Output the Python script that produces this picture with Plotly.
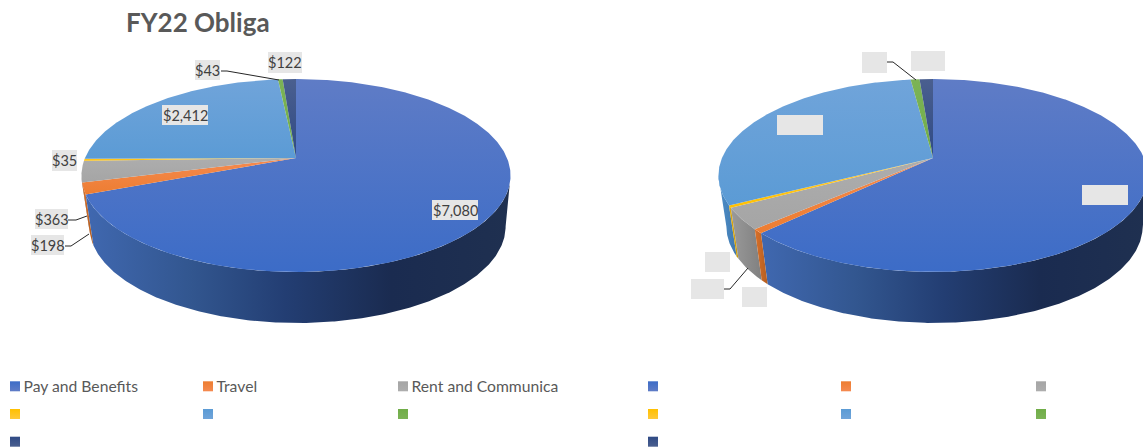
import math
import plotly.graph_objects as go

# ---- data ----
categories = ["Pay and Benefits", "Travel", "Rent and Communica", "", "", "", ""]
left_values = [7080, 198, 363, 35, 2412, 43, 122]
right_values = [626, 7, 36, 4, 307, 8, 12]
left_labels = ["$7,080", "$198", "$363", "$35", "$2,412", "$43", "$122"]
title_text = "FY22 Obliga"

# ---- style ----
# (upper colour, lower colour) of each top face
TOP_COLORS = [("#5f7cc6", "#3c6cc7"), ("#f58a50", "#ed7d31"), ("#adadad", "#a5a5a5"),
              ("#ffc93a", "#ffc000"), ("#70a4da", "#5b9bd5"), ("#7cb356", "#70ad47"),
              ("#4a5f8f", "#2f4a85")]
WALL_SCALES = [
    [[0, "#4068b0"], [0.25, "#32568f"], [0.47, "#233e73"], [0.72, "#1a2b50"], [1, "#1f3050"]],
    [[0, "#d9702a"], [1, "#b35e20"]],
    [[0, "#9a9a9a"], [1, "#808080"]],
    [[0, "#e3ab0c"], [1, "#c79a08"]],
    [[0, "#4f8fca"], [1, "#3f78ad"]],
    [[0, "#5f9a3a"], [1, "#4f8530"]],
    [[0, "#2a4070"], [1, "#1e3055"]],
]
TEXT = "#595959"
LABEL_TEXT = "#404040"
BOX = "#e6e6e6"
FONT = "Lato"

K, A, B = 0.1813, 93.3, 211.0
SHRINK, DROP, SHIFT = 0.97, 51.0, 1.5
WALL_FROM, WALL_TO = 100.4, 259.6


def rim(cx, cy, deg, bottom=False):
    t = math.radians(deg)
    u, v = math.sin(t), math.cos(t)
    d = 1 + K * v
    x, y = B * u / d, -A * v / d
    if bottom:
        x, y = x * SHRINK + SHIFT, y + DROP
    return cx + x, cy + y


def arc(cx, cy, a0, a1, bottom=False):
    n = max(2, int(abs(a1 - a0) / 0.5) + 1)
    pts = [rim(cx, cy, a0 + (a1 - a0) * i / (n - 1), bottom) for i in range(n)]
    return [p[0] for p in pts], [p[1] for p in pts]


fig = go.Figure()


def add_pie(values, cx, cy):
    total = sum(values)
    spans, a = [], 0.0
    for v in values:
        spans.append((a, a + v / total * 360))
        a += v / total * 360
    # walls, visible front part only
    order = sorted(range(len(values)), key=lambda i: -abs(sum(spans[i]) / 2 - 180))
    for i in order:
        a0, a1 = max(spans[i][0], WALL_FROM), min(spans[i][1], WALL_TO)
        if a1 <= a0:
            continue
        xt, yt = arc(cx, cy, a0, a1)
        xb, yb = arc(cx, cy, a0, a1, True)
        fig.add_trace(go.Scatter(
            x=xt + xb[::-1] + xt[:1], y=yt + yb[::-1] + yt[:1], mode="lines", fill="toself",
            line=dict(width=0), hoverinfo="skip", showlegend=False,
            fillgradient=dict(type="horizontal", colorscale=WALL_SCALES[i])))
    # top faces
    for i, (a0, a1) in enumerate(spans):
        xt, yt = arc(cx, cy, a0, a1)
        upper, lower = TOP_COLORS[i]
        fig.add_trace(go.Scatter(
            x=[cx] + xt + [cx], y=[cy] + yt + [cy], mode="lines", fill="toself",
            line=dict(width=0), hoverinfo="skip", showlegend=False,
            fillgradient=dict(type="vertical", colorscale=[[0, lower], [1, upper]])))


add_pie(left_values, 296, 158)
add_pie(right_values, 933, 158)

# legends
leg_sets = [(15, 208, 403), (653, 846, 1041)]
for s, cols in enumerate(leg_sets):
    for i, cat in enumerate(categories):
        col = i % 3
        row = i // 3
        name = cat if s == 0 else ""
        y = 386.3 + row * 27.7
        fig.add_trace(go.Scatter(
            x=[cols[col]], y=[y], mode="markers",
            marker=dict(symbol="square", size=10, color=TOP_COLORS[i][1],
                        gradient=dict(type="vertical", color=TOP_COLORS[i][0]), line=dict(width=0)),
            hoverinfo="skip", showlegend=False))
        if name:
            fig.add_trace(go.Scatter(
                x=[cols[col] + 8.5], y=[y + 1.5], mode="text", text=[name], textposition="middle right",
                textfont=dict(family=FONT, size=15.7, color=TEXT), hoverinfo="skip", showlegend=False))

# label boxes with text
left_boxes = [(432, 200, 478, 220), (31, 235, 64, 255), (35, 209, 68, 229), (52, 150, 77, 171),
              (162, 105, 208, 125), (195, 60, 220, 80), (268, 52, 302, 73)]
right_boxes = [(1082, 185, 1128, 205), (691, 279, 724, 299), (742, 287, 767, 307), (705, 252, 730, 272),
               (777, 115, 823, 135), (862, 52, 887, 73), (911, 51, 945, 71)]
shapes = []
for x0, y0, x1, y1 in left_boxes + right_boxes:
    shapes.append(dict(type="rect", x0=x0, y0=y0, x1=x1, y1=y1, fillcolor=BOX, line_width=0, layer="above"))
leaders = ["M221,71 L227,71 L279,80", "M68,220 L76,220 L87,216", "M65,246 L71,246 L89,234",
           "M724,289 L730,289 L748,268", "M887,62 L893,62 L916,80"]
for p in leaders:
    shapes.append(dict(type="path", path=p, line=dict(color="#262626", width=1), layer="above"))

ann = []
for t, (x0, y0, x1, y1) in zip(left_labels, left_boxes):
    ann.append(dict(x=(x0 + x1) / 2, y=(y0 + y1) / 2, text=t, showarrow=False, xanchor="center", yanchor="middle",
                    font=dict(family=FONT, size=14.5, color=LABEL_TEXT)))
ann.append(dict(x=198, y=22, text="<b>%s</b>" % title_text, showarrow=False, xanchor="center", yanchor="middle",
                font=dict(family=FONT, size=26, color=TEXT)))

fig.update_layout(
    width=1143, height=448, margin=dict(l=0, r=0, t=0, b=0), showlegend=False,
    paper_bgcolor="white", plot_bgcolor="white",
    xaxis=dict(range=[0, 1143], visible=False, fixedrange=True),
    yaxis=dict(range=[448, 0], visible=False, fixedrange=True),
    shapes=shapes, annotations=ann,
)
fig.write_html("out.html", config=dict(displayModeBar=False),
               post_script="document.body.style.margin='0';")
